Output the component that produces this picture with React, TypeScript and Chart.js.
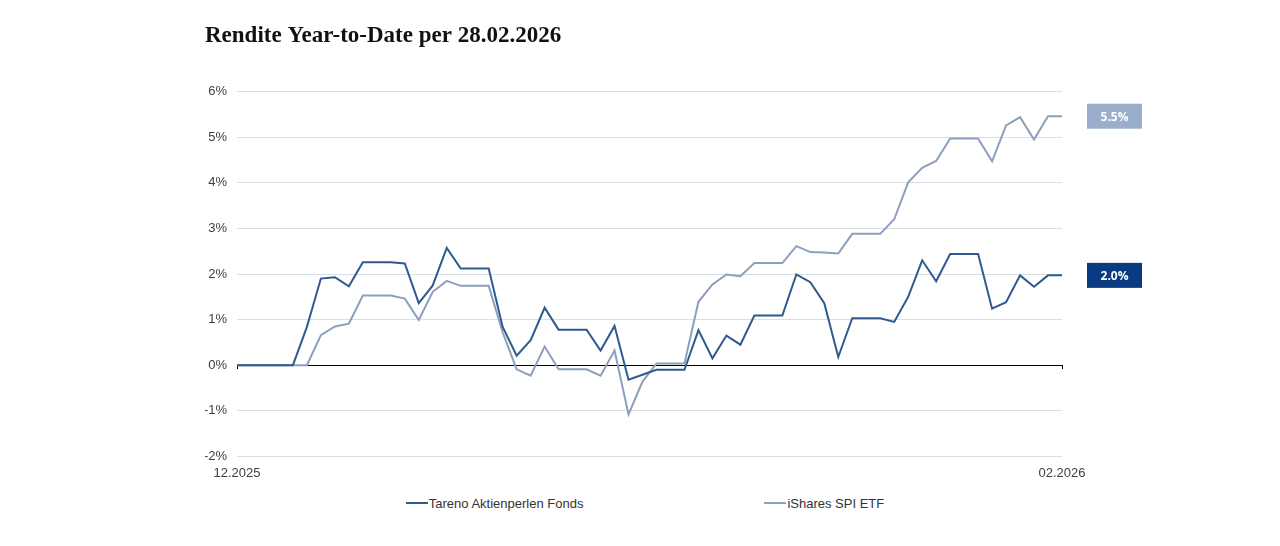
import React, { useEffect, useRef } from "react";
import { Chart, registerables } from "chart.js";

Chart.register(...registerables);

const dates: string[] = [
  "31.12.2025",
  "01.01.2026", "02.01.2026", "03.01.2026", "04.01.2026", "05.01.2026", "06.01.2026", "07.01.2026",
  "08.01.2026", "09.01.2026", "10.01.2026", "11.01.2026", "12.01.2026", "13.01.2026", "14.01.2026",
  "15.01.2026", "16.01.2026", "17.01.2026", "18.01.2026", "19.01.2026", "20.01.2026", "21.01.2026",
  "22.01.2026", "23.01.2026", "24.01.2026", "25.01.2026", "26.01.2026", "27.01.2026", "28.01.2026",
  "29.01.2026", "30.01.2026", "31.01.2026",
  "01.02.2026", "02.02.2026", "03.02.2026", "04.02.2026", "05.02.2026", "06.02.2026", "07.02.2026",
  "08.02.2026", "09.02.2026", "10.02.2026", "11.02.2026", "12.02.2026", "13.02.2026", "14.02.2026",
  "15.02.2026", "16.02.2026", "17.02.2026", "18.02.2026", "19.02.2026", "20.02.2026", "21.02.2026",
  "22.02.2026", "23.02.2026", "24.02.2026", "25.02.2026", "26.02.2026", "27.02.2026", "28.02.2026",
];

const xTickFirst = "12.2025";
const xTickLast = "02.2026";

const tarenoName = "Tareno Aktienperlen Fonds";
const tarenoValues: number[] = [
  0, 0, 0, 0, 0, 0.84, 1.9, 1.93, 1.73, 2.26, 2.26, 2.26, 2.23, 1.36, 1.75,
  2.57, 2.12, 2.12, 2.12, 0.84, 0.21, 0.55, 1.26, 0.78, 0.78, 0.78, 0.32, 0.86, -0.32,
  -0.21, -0.1, -0.1, -0.1, 0.77, 0.15, 0.65, 0.45, 1.09, 1.09, 1.09, 1.99, 1.82, 1.36,
  0.18, 1.03, 1.03, 1.03, 0.95, 1.5, 2.3, 1.84, 2.44, 2.44, 2.44, 1.24, 1.38, 1.97,
  1.72, 1.97, 1.97,
];

const spiName = "iShares SPI ETF";
const spiValues: number[] = [
  0, 0, 0, 0, 0, 0, 0.66, 0.85, 0.91, 1.53, 1.53, 1.53, 1.46, 0.99, 1.61,
  1.85, 1.74, 1.74, 1.74, 0.72, -0.09, -0.23, 0.41, -0.09, -0.09, -0.09, -0.23, 0.32, -1.08,
  -0.36, 0.04, 0.04, 0.04, 1.39, 1.77, 1.99, 1.95, 2.24, 2.24, 2.24, 2.61, 2.48, 2.47,
  2.45, 2.88, 2.88, 2.88, 3.2, 4.01, 4.33, 4.48, 4.97, 4.97, 4.97, 4.47, 5.26, 5.44,
  4.95, 5.46, 5.46,
];

const yMin = -2;
const yMax = 6;
const yStep = 1;

const titleText = "Rendite Year-to-Date per 28.02.2026";

const TARENO_LINE = "#2f5a8f";
const TARENO_BOX = "#0a3b82";
const SPI_LINE = "#8c9fbe";
const SPI_BOX = "#9aaecb";

const TICK_FONT = "'Liberation Sans', Arial, sans-serif";

const endLabelPlugin = {
  id: "endLabels",
  afterDatasetsDraw(chart: any) {
    const { ctx, chartArea } = chart;
    chart.data.datasets.forEach((ds: any, i: number) => {
      const meta = chart.getDatasetMeta(i);
      const last = meta.data[meta.data.length - 1];
      if (!last) return;
      const v = ds.data[ds.data.length - 1] as number;
      const w = 55;
      const h = 25;
      const x = chartArea.right + 25;
      const y = last.y - h / 2;
      ctx.save();
      ctx.fillStyle = ds.endBoxColor;
      ctx.fillRect(x, y, w, h);
      ctx.fillStyle = "#ffffff";
      ctx.font = "bold 12px 'Open Sans', 'Liberation Sans', sans-serif";
      ctx.textAlign = "center";
      ctx.textBaseline = "middle";
      ctx.fillText(v.toFixed(1) + "%", x + w / 2, last.y + 1);
      ctx.restore();
    });
  },
};

export default function App() {
  const canvasRef = useRef<HTMLCanvasElement | null>(null);

  useEffect(() => {
    if (!canvasRef.current) return;
    const lastIdx = dates.length - 1;
    const chart = new Chart(canvasRef.current, {
      type: "line",
      data: {
        labels: dates,
        datasets: [
          {
            label: tarenoName,
            data: tarenoValues,
            borderColor: TARENO_LINE,
            backgroundColor: TARENO_LINE,
            borderWidth: 2,
            pointRadius: 0,
            tension: 0,
            endBoxColor: TARENO_BOX,
          } as any,
          {
            label: spiName,
            data: spiValues,
            borderColor: SPI_LINE,
            backgroundColor: SPI_LINE,
            borderWidth: 2,
            pointRadius: 0,
            tension: 0,
            endBoxColor: SPI_BOX,
          } as any,
        ],
      },
      options: {
        animation: false,
        responsive: true,
        maintainAspectRatio: false,
        layout: { padding: { left: 197, right: 210, top: 0, bottom: 6 } },
        plugins: {
          legend: { display: false },
          tooltip: { enabled: false },
          title: {
            display: true,
            text: titleText,
            align: "start",
            color: "#111111",
            font: { family: "'Liberation Serif', 'DejaVu Serif', serif", size: 23, weight: "bold" },
            padding: { top: 14, bottom: 42 },
          },
        },
        scales: {
          x: {
            type: "category",
            offset: false,
            grid: { display: false },
            border: { display: false },
            ticks: {
              autoSkip: false,
              maxRotation: 0,
              minRotation: 0,
              padding: 1,
              color: "#404040",
              font: { family: TICK_FONT, size: 13 },
              callback: (_v: any, idx: number) =>
                idx === 0 ? xTickFirst : idx === lastIdx ? xTickLast : "",
            },
          },
          x2: {
            type: "category",
            axis: "x",
            position: { y: 0 } as any,
            offset: false,
            grid: {
              display: true,
              drawOnChartArea: false,
              drawTicks: true,
              tickLength: 4,
              lineWidth: 1,
              color: (c: any) => (c.index === 0 || c.index === lastIdx ? "#000000" : "rgba(0,0,0,0)"),
            },
            border: { display: false },
            ticks: { display: false, autoSkip: false, maxRotation: 0 },
          } as any,
          y: {
            min: yMin,
            max: yMax,
            grid: {
              drawTicks: false,
              color: (c: any) => (c.tick && c.tick.value === 0 ? "#000000" : "#d9dee7"),
              lineWidth: 1,
            },
            border: { display: false },
            ticks: {
              stepSize: yStep,
              padding: 10,
              color: "#404040",
              font: { family: TICK_FONT, size: 13 },
              callback: (v: any) => `${v}%`,
            },
            afterFit: (scale: any) => {
              scale.width = 32;
            },
          },
        },
      },
      plugins: [endLabelPlugin],
    });
    return () => chart.destroy();
  }, []);

  const legendItem = (color: string, text: string) => (
    <div style={{ display: "flex", alignItems: "center" }}>
      <span style={{ display: "inline-block", width: 22, height: 2, background: color, marginRight: 1 }} />
      <span>{text}</span>
    </div>
  );

  return (
    <div style={{ width: "100%" }}>
      <div style={{ position: "relative", width: "100%", height: 480 }}>
        <canvas ref={canvasRef} />
      </div>
      <div
        style={{
          display: "flex",
          justifyContent: "center",
          gap: 181,
          paddingLeft: 10,
          height: 30,
          alignItems: "center",
          fontFamily: TICK_FONT,
          fontSize: 13,
          color: "#333333",
        }}
      >
        {legendItem(TARENO_LINE, tarenoName)}
        {legendItem(SPI_LINE, spiName)}
      </div>
    </div>
  );
}
